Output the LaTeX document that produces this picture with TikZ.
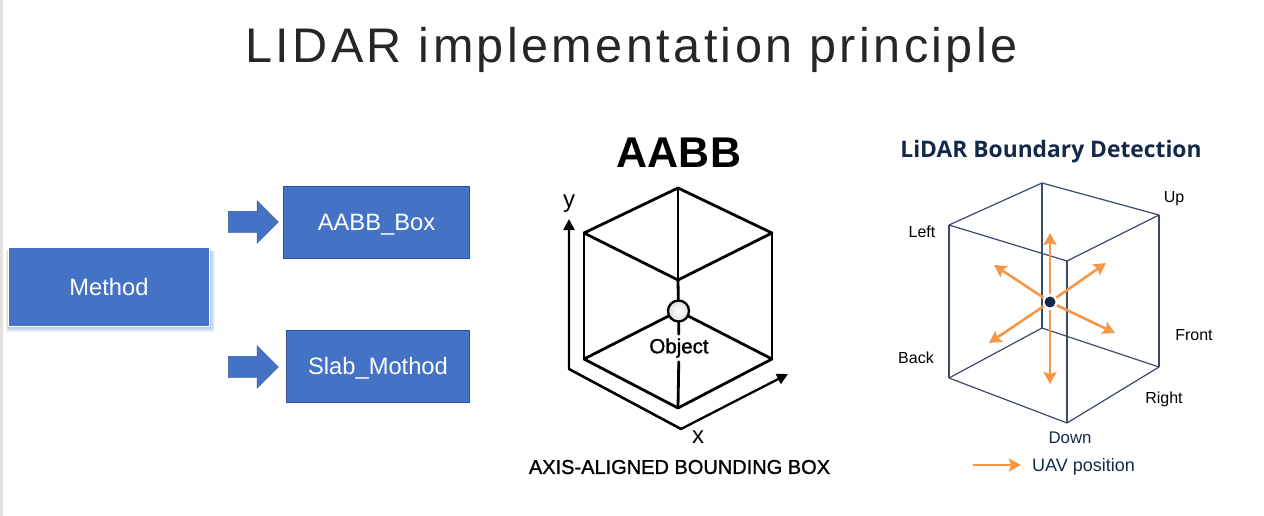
\documentclass[tikz,border=0pt]{standalone}
\usepackage{fontspec}
\setmainfont{Liberation Sans}
\newfontfamily\headfont{Open Sans}
\newfontfamily\medfont[FakeBold=1.2]{Liberation Sans}
\usetikzlibrary{positioning,shapes,arrows.meta}
\definecolor{boxblue}{HTML}{4472C4}
\definecolor{boxedge}{HTML}{2F528F}
\definecolor{navy}{HTML}{14294A}
\definecolor{rayorange}{HTML}{F79646}
\definecolor{cubeedge}{HTML}{3A4A68}
\definecolor{stripgray}{HTML}{E6E0DC}
\newcommand{\fsize}[1]{\fontsize{#1}{#1}\selectfont}
\tikzset{
        methodbox/.style={fill=boxblue, draw=boxedge, text=white, font=\fsize{23.7}, inner sep=0pt, text height=17pt, text depth=0pt},
        blockarrow/.style={single arrow, fill=boxblue, draw=boxedge, inner sep=0pt, minimum height=50pt, single arrow head extend=10.5pt},
        aabbline/.style={line width=2.8pt, line cap=round, line join=round},
        axisline/.style={line width=2.3pt, line join=round, -{Triangle[length=11pt,width=11pt]}},
        lidarline/.style={cubeedge, line width=1.2pt},
        ray/.style={rayorange, line width=2.6pt, -{Stealth[length=12pt,width=13pt,inset=2pt]}},
        sidelabel/.style={font=\fsize{16}, text=black},
}
\begin{document}
\begin{tikzpicture}[x=1pt,y=-1pt]
\useasboundingbox (0,0) rectangle (1264,516);
\fill[stripgray] (0,0) rectangle (3,516);

% title
\node[text=black!85, font=\fsize{48.6}\addfontfeatures{LetterSpace=7}] (title) at (631.5,50) {LIDAR implementation principle};

% method boxes
\foreach \s in {1,...,6}
  \fill[boxblue, opacity=.09] (9-\s/2,248+\s/2) rectangle (209+\s,326+\s);
\node[methodbox, draw=white, line width=1pt, minimum width=201pt, minimum height=79pt] (method) at (109,287) {Method};
\node[methodbox, minimum width=186pt, minimum height=72pt] (aabbbox) at (376.5,222) {AABB\_Box};
\node[methodbox, minimum width=183pt, minimum height=72pt] (slabbox) at (378,366) {Slab\_Mothod};
\node[blockarrow] (arrowa) at (248,222) {\rule{0pt}{21pt}};
\node[blockarrow] (arrowb) at (248,367) {\rule{0pt}{21pt}};

% AABB cube
\node[font=\bfseries\fsize{43}] (aabbtitle) at (679,153) {AABB};
\coordinate (atop) at (678,188);
\coordinate (aleft) at (584,233);
\coordinate (aright) at (772,233);
\coordinate (amid) at (678,280);
\coordinate (aleftb) at (584,359);
\coordinate (arightb) at (772,359);
\coordinate (abot) at (678,408);
\node[circle, draw=black, line width=2.3pt, minimum size=21pt, inner sep=0pt, shading=radial, inner color=white, outer color=gray!25] (ball) at (678.5,311) {};
\node[font=\fsize{20.5}\medfont, inner sep=4pt, text=black] (objectlabel) at (679,348) {Object};
\foreach \a/\b in {atop/aleft,atop/aright,atop/amid,aleft/amid,aright/amid,aleft/aleftb,aright/arightb,aleftb/abot,arightb/abot,objectlabel/abot}
  \draw[aabbline] (\a) -- (\b);
\draw[aabbline] (amid) -- (ball);
\draw[aabbline] (aleftb) -- (ball);
\draw[aabbline] (arightb) -- (ball);
\draw[aabbline] (ball) -- (objectlabel);

% axes
\coordinate (origy) at (569,369);
\coordinate (origx) at (681,429);
\coordinate (tipy) at (569,219);
\coordinate (tipx) at (788,374);
\draw[axisline] (origx) -- (origy) -- (tipy);
\draw[axisline] (origy) -- (origx) -- (tipx);
\node[font=\fsize{24}] (ylabel) at (569,204) {y};
\node[font=\fsize{24}] (xlabel) at (698,437) {x};
\node[font=\fsize{20}\medfont] (aabbcaption) at (679.5,467) {AXIS-ALIGNED BOUNDING BOX};

% LiDAR cube
\node[font=\bfseries\fsize{22.8}, text=navy, inner sep=0pt] (lidartitle) at (1051,152) {\headfont LiDAR Boundary Detection};
\coordinate (ltop) at (1042,183);
\coordinate (lright) at (1159,215);
\coordinate (lleft) at (949,225);
\coordinate (lfront) at (1067,261);
\coordinate (lleftb) at (949,378);
\coordinate (lrightb) at (1159,367);
\coordinate (lfrontb) at (1067,423);
\coordinate (lback) at (1042,328);
\foreach \a/\b in {ltop/lright,ltop/lleft,lleft/lfront,lright/lfront,ltop/lback,lleft/lleftb,lright/lrightb,lfront/lfrontb,lleftb/lfrontb,lrightb/lfrontb,lback/lleftb,lback/lrightb}
  \draw[lidarline] (\a) -- (\b);

% rays from the UAV
\node[circle, fill=navy, minimum size=11pt, inner sep=0pt] (uav) at (1050,302) {};
\foreach \n/\x/\y in {up/1050/233,down/1050/384,ul/994/265,ur/1106/263,dl/989/343,dr/1115/333}{
  \coordinate (ray\n) at (\x,\y);
  \draw[ray, shorten <=2pt] (uav) -- (ray\n);
}
\node[sidelabel] (uplabel) at (1174,199) {Up};
\node[sidelabel] (leftlabel) at (922,232) {Left};
\node[sidelabel] (frontlabel) at (1194,335) {Front};
\node[sidelabel] (backlabel) at (916,358) {Back};
\node[sidelabel] (rightlabel) at (1164,399) {Right};
\node[sidelabel, text=navy, font=\fsize{16.8}] (downlabel) at (1070,438) {Down};

% legend
\coordinate (legstart) at (973,465);
\node[font=\fsize{18}, text=navy, right, inner sep=0pt] (uavlabel) at (1032,467) {UAV position};
\coordinate (legend) at (1021,465);
\draw[ray] (legstart) -- (legend);
\end{tikzpicture}
\end{document}
